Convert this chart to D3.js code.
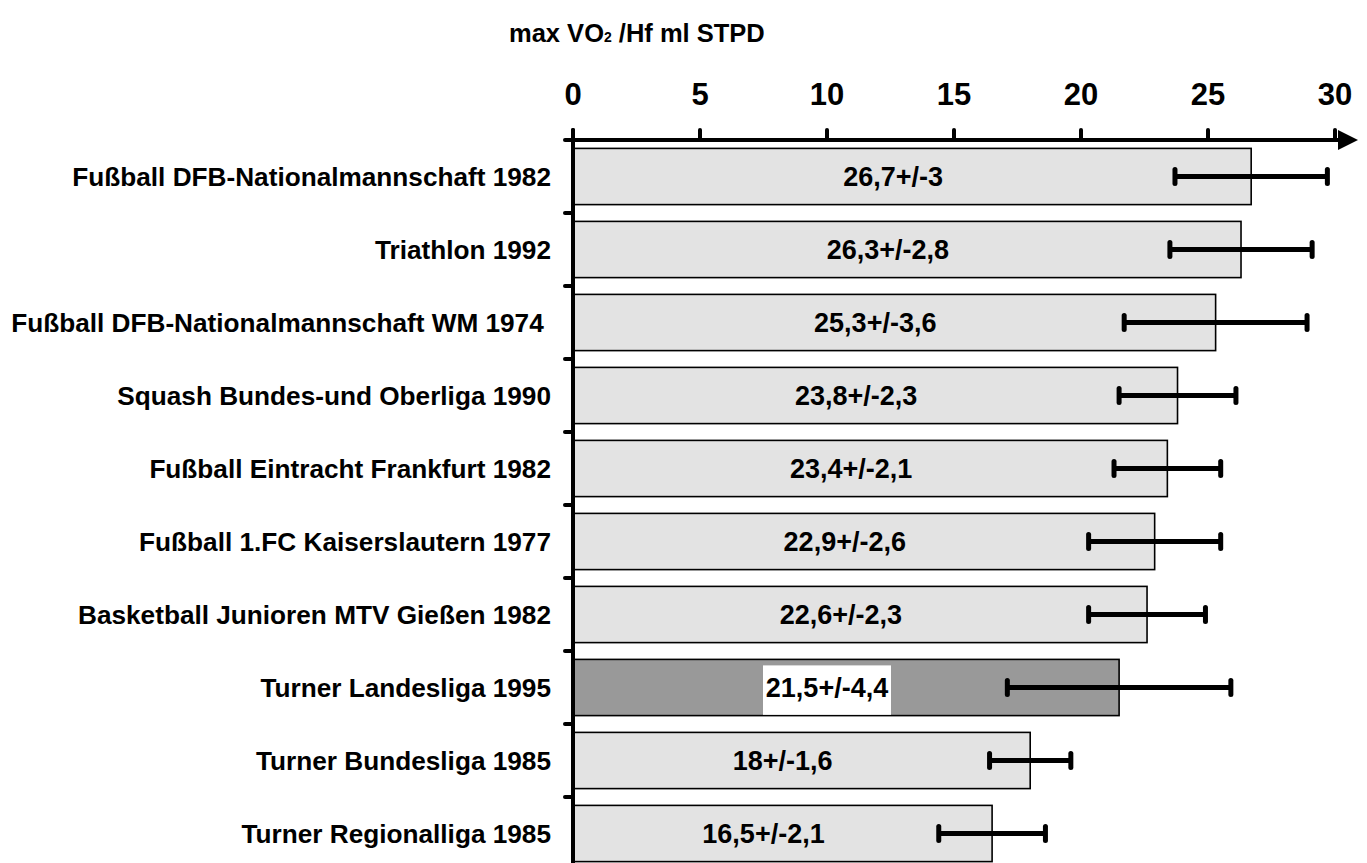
<!DOCTYPE html>
<html>
<head>
<meta charset="utf-8">
<script src="https://cdn.jsdelivr.net/npm/d3@7"></script>
<style>
  body { margin: 0; background: #fff; }
  text { font-family: "Liberation Sans", Arial, sans-serif; font-weight: bold; fill: #000; }
</style>
</head>
<body>
<div id="chart"></div>
<script>
// max VO2/Hf per group, mean +/- sd
var groups = [
    "Fußball DFB-Nationalmannschaft 1982",
    "Triathlon 1992",
    "Fußball DFB-Nationalmannschaft WM 1974 ",
    "Squash Bundes-und Oberliga 1990",
    "Fußball Eintracht Frankfurt 1982",
    "Fußball 1.FC Kaiserslautern 1977",
    "Basketball Junioren MTV Gießen 1982",
    "Turner Landesliga 1995",
    "Turner Bundesliga 1985",
    "Turner Regionalliga 1985"
];
var means = [26.7, 26.3, 25.3, 23.8, 23.4, 22.9, 22.6, 21.5, 18, 16.5];
var sds = [3, 2.8, 3.6, 2.3, 2.1, 2.6, 2.3, 4.4, 1.6, 2.1];
var highlight = "Turner Landesliga 1995";
var xTicks = [0, 5, 10, 15, 20, 25, 30];

var width = 1367, height = 863;

var svg = d3.select("#chart").append("svg")
    .attr("width", width)
    .attr("height", height);

var x = d3.scaleLinear().domain([0, 30]).range([573, 1335]);
var y = d3.scaleBand().domain(groups).range([140, 870])
    .paddingInner(0.23).paddingOuter(0.115);

var axisY = 140;
var step = y.step();

var fmt = function(v) { return String(v).replace(".", ","); };
// the labels sit roughly mid-bar, a bit left of centre
var labelPos = function(d) { return x(d.mean * 0.5 - 0.75); };

//// BARS //////////////////////////////////////////////////////////////////
var rows = groups.map(function(g, i) {
    return { name: g, mean: means[i], sd: sds[i] };
});

svg.selectAll("rect.bar").data(rows).enter().append("rect")
    .attr("class", "bar")
    .attr("x", x(0))
    .attr("y", function(d) { return y(d.name); })
    .attr("width", function(d) { return x(d.mean) - x(0); })
    .attr("height", y.bandwidth())
    .attr("fill", function(d) { return d.name === highlight ? "#999999" : "#e3e3e3"; })
    .attr("stroke", "#000")
    .attr("stroke-width", 1.6);

// white box behind the highlighted label
var hl = rows.filter(function(d) { return d.name === highlight; })[0];
svg.append("rect")
    .attr("x", labelPos(hl) - 64)
    .attr("y", y(hl.name) + 6)
    .attr("width", 128)
    .attr("height", y.bandwidth() - 6.8)
    .attr("fill", "#fff");

// value labels
svg.selectAll("text.val").data(rows).enter().append("text")
    .attr("class", "val")
    .attr("x", labelPos)
    .attr("y", function(d) { return y(d.name) + y.bandwidth() / 2; })
    .attr("dy", "0.36em")
    .attr("text-anchor", "middle")
    .style("font-size", "27px")
    .text(function(d) { return fmt(d.mean) + "+/-" + fmt(d.sd); });

//// ERROR BARS ////////////////////////////////////////////////////////////
var err = svg.selectAll("g.err").data(rows).enter().append("g")
    .attr("class", "err")
    .attr("transform", function(d) { return "translate(0," + (y(d.name) + y.bandwidth() / 2) + ")"; });

err.append("line")
    .attr("x1", function(d) { return x(d.mean - d.sd); })
    .attr("x2", function(d) { return x(d.mean + d.sd); })
    .attr("stroke", "#000").attr("stroke-width", 5);

[-1, 1].forEach(function(s) {
    err.append("line")
        .attr("x1", function(d) { return x(d.mean + s * d.sd); })
        .attr("x2", function(d) { return x(d.mean + s * d.sd); })
        .attr("y1", -7).attr("y2", 7)
        .attr("stroke", "#000").attr("stroke-width", 5)
        .attr("stroke-linecap", "round");
});

//// AXES //////////////////////////////////////////////////////////////////
var ax = svg.append("g").attr("class", "axes");

// horizontal axis with arrow
ax.append("line")
    .attr("x1", x(0) - 8).attr("x2", x(30) + 8)
    .attr("y1", axisY).attr("y2", axisY)
    .attr("stroke", "#000").attr("stroke-width", 4)
    .attr("stroke-linecap", "round");

ax.append("path")
    .attr("d", "M" + (x(30) + 3) + "," + (axisY - 10) +
               "L" + (x(30) + 23) + "," + axisY +
               "L" + (x(30) + 3) + "," + (axisY + 10) + "Z")
    .attr("fill", "#000");

ax.selectAll("line.xtick").data(xTicks).enter().append("line")
    .attr("class", "xtick")
    .attr("x1", function(d) { return x(d); }).attr("x2", function(d) { return x(d); })
    .attr("y1", axisY - 10).attr("y2", axisY)
    .attr("stroke", "#000").attr("stroke-width", 4)
    .attr("stroke-linecap", "round");

ax.selectAll("text.xlab").data(xTicks).enter().append("text")
    .attr("class", "xlab")
    .attr("x", function(d) { return x(d); })
    .attr("y", 105)
    .attr("text-anchor", "middle")
    .style("font-size", "31px")
    .text(function(d) { return d; });

// vertical axis
ax.append("line")
    .attr("x1", x(0)).attr("x2", x(0))
    .attr("y1", axisY - 10).attr("y2", height + 5)
    .attr("stroke", "#000").attr("stroke-width", 4)
    .attr("stroke-linecap", "round");

var yTicks = d3.range(1, groups.length + 1).map(function(i) { return axisY + i * step; });
ax.selectAll("line.ytick").data(yTicks).enter().append("line")
    .attr("class", "ytick")
    .attr("x1", x(0) - 8).attr("x2", x(0))
    .attr("y1", function(d) { return d; }).attr("y2", function(d) { return d; })
    .attr("stroke", "#000").attr("stroke-width", 4)
    .attr("stroke-linecap", "round");

// category labels
ax.selectAll("text.cat").data(groups).enter().append("text")
    .attr("class", "cat")
    .attr("x", 551)
    .attr("y", function(d) { return y(d) + y.bandwidth() / 2; })
    .attr("dy", "0.36em")
    .attr("text-anchor", "end")
    .style("white-space", "pre")
    .style("font-size", "26.2px")
    .text(function(d) { return d; });

//// TITLE /////////////////////////////////////////////////////////////////
var title = svg.append("text")
    .attr("x", 509).attr("y", 42)
    .style("font-size", "25.5px");
title.append("tspan").text("max VO");
title.append("tspan").style("font-size", "14px").text("2");
title.append("tspan").text(" /Hf ml STPD");
</script>
</body>
</html>
